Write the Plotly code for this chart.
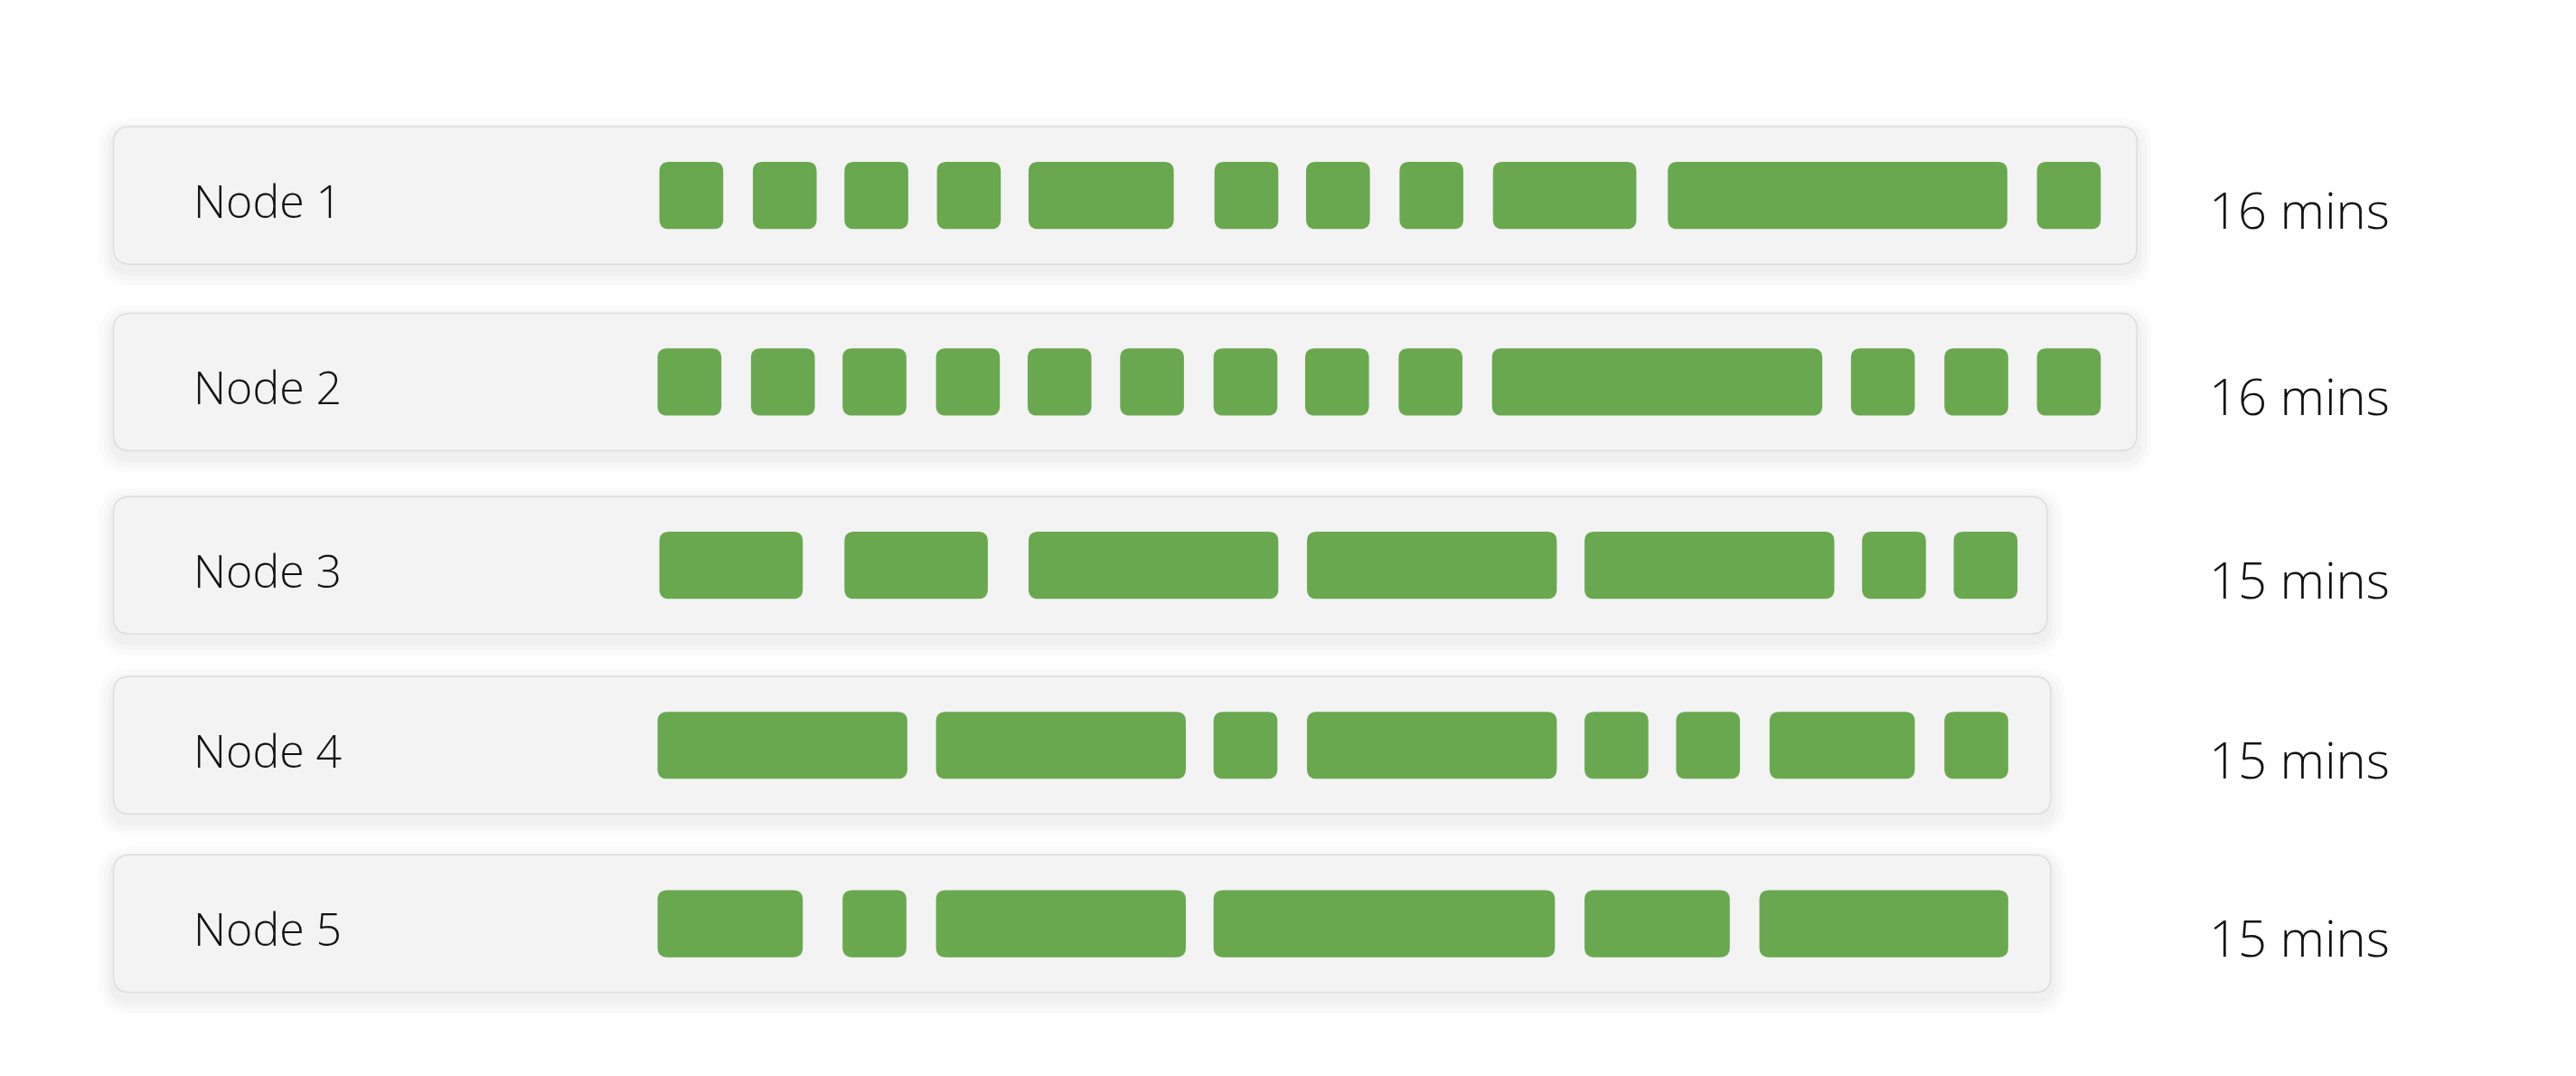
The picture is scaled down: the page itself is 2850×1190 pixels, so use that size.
import plotly.graph_objects as go

nodes = ["Node 1", "Node 2", "Node 3", "Node 4", "Node 5"]
totals = ["16 mins", "16 mins", "15 mins", "15 mins", "15 mins"]
# block start (minutes) and duration (minutes)
starts = [
    [0, 1.01, 2.0, 3.0, 3.99, 6.0, 6.99, 8.0, 9.01, 10.9, 14.89],
    [-0.02, 0.99, 1.98, 2.99, 3.98, 4.98, 5.99, 6.98, 7.99, 9.0, 12.88, 13.89, 14.89],
    [0, 2.0, 3.99, 7.0, 10.0, 13.0, 13.99],
    [-0.02, 2.99, 5.99, 7.0, 10.0, 10.99, 12.0, 13.89],
    [-0.02, 1.98, 2.99, 5.99, 10.0, 11.89],
]
durs = [
    [0.69, 0.69, 0.69, 0.69, 1.57, 0.69, 0.69, 0.69, 1.55, 3.67, 0.69],
    [0.69] * 9 + [3.57, 0.69, 0.69, 0.69],
    [1.55, 1.55, 2.70, 2.70, 2.70, 0.69, 0.69],
    [2.70, 2.70, 0.69, 2.70, 0.69, 0.69, 1.57, 0.69],
    [1.57, 0.69, 2.70, 3.69, 1.57, 2.69],
]

PPM = 56.6            # display px per minute
X0 = 399              # display px of minute 0
W, H = 1576, 657.5    # display units
row_y = [115, 229, 341, 451, 560]

def px(v):
    return (v - X0) / PPM

def rrect(x0, x1, y0, y1, r):
    rx = r / PPM
    ry = r
    return (f"M{x0+rx},{y0} L{x1-rx},{y0} Q{x1},{y0} {x1},{y0+ry} "
            f"L{x1},{y1-ry} Q{x1},{y1} {x1-rx},{y1} L{x0+rx},{y1} "
            f"Q{x0},{y1} {x0},{y1-ry} L{x0},{y0+ry} Q{x0},{y0} {x0+rx},{y0} Z")

shapes = []
annotations = []
pad = [0.39, 0.39, 0.32, 0.46, 0.46]
for i, n in enumerate(nodes):
    cy = row_y[i]
    end = starts[i][-1] + durs[i][-1] + pad[i]
    left = px(65)
    for k, a in enumerate([0.025, 0.02, 0.015]):
        g = (k + 1) * 3
        shapes.append(dict(type="path", xref="x", yref="y",
                           path=rrect(left - g / PPM, end + g / PPM, cy - 42 - g + 4, cy + 42 + g + 4, 10 + g),
                           fillcolor=f"rgba(0,0,0,{a})", line=dict(width=0), layer="below"))
    shapes.append(dict(type="path", xref="x", yref="y",
                       path=rrect(left, end, cy - 42, cy + 42, 10),
                       fillcolor="#f3f3f3", line=dict(color="#dcdcdc", width=1.5), layer="below"))
    for s, d in zip(starts[i], durs[i]):
        shapes.append(dict(type="path", xref="x", yref="y",
                           path=rrect(s, s + d, cy - 20.5, cy + 20.5, 6),
                           fillcolor="#6aa84f", line=dict(width=0)))
    annotations.append(dict(x=px(113), y=cy + 3, xref="x", yref="y", text=n, showarrow=False,
                            xanchor="left", font=dict(family="Open Sans", size=50, color="#111", weight=300)))
    annotations.append(dict(x=px(1346), y=cy + 8, xref="x", yref="y", text=totals[i], showarrow=False,
                            xanchor="left", font=dict(family="Open Sans", size=56, color="#111", weight=300)))

fig = go.Figure()
fig.add_trace(go.Scatter(x=[px(0)], y=[0], mode="markers", marker=dict(opacity=0), hoverinfo="skip"))
fig.update_layout(
    width=2850, height=1190, margin=dict(l=0, r=0, t=0, b=0),
    paper_bgcolor="white", plot_bgcolor="white", showlegend=False,
    shapes=shapes, annotations=annotations,
    xaxis=dict(range=[px(0), px(W)], visible=False, fixedrange=True),
    yaxis=dict(range=[H, 0], visible=False, fixedrange=True),
)
fig.write_html("out.html")
